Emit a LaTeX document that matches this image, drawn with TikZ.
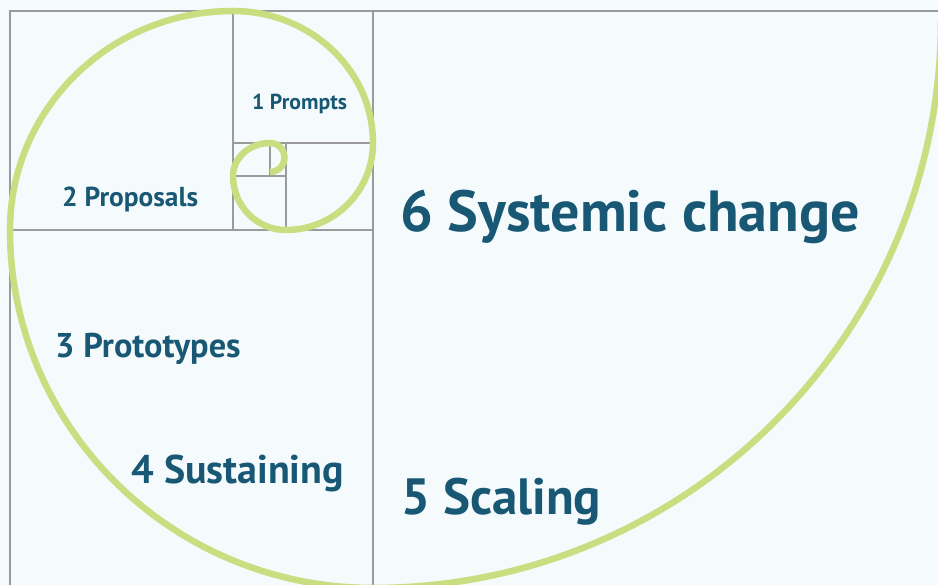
\documentclass[tikz,border=0pt]{standalone}
\usepackage{fontspec}
\setmainfont{PT Sans}
\definecolor{spiralgreen}{RGB}{200,222,128}
\definecolor{stagetext}{RGB}{24,88,117}
\definecolor{paper}{RGB}{245,251,252}
\definecolor{gridgray}{RGB}{155,155,155}
\newcommand{\stagesize}[1]{\fontsize{#1}{#1}\selectfont\bfseries}
\tikzset{
  frame/.style={draw=gridgray, line width=1.4pt},
  stage/.style={text=stagetext, anchor=base west, inner sep=0pt},
}

\begin{document}
\begin{tikzpicture}[x=1pt,y=1pt]

  \fill[paper] (0,0) rectangle (938,585);
  \useasboundingbox (0,0) rectangle (938,585);

  % golden squares
  \draw[frame] (938,574) -- (10,574) -- (10,0);
  \draw[frame] (373,574) -- (373,0);
  \draw[frame] (233,574) -- (233,355);
  \draw[frame] (10,355) -- (373,355);
  \draw[frame] (233,442) -- (373,442);
  \draw[frame] (286,442) -- (286,355);
  \draw[frame] (233,409) -- (286,409);
  \draw[frame] (270,442) -- (270,409);

  % spiral
  \begin{scope}
    \clip (0,0) rectangle (938,585);
    \draw[spiralgreen, line width=6.5pt]
      (270,413) arc[start angle=-90, end angle=90, radius=14.5]
      arc[start angle=90, end angle=180, x radius=37, y radius=33]
      arc[start angle=180, end angle=270, x radius=53, y radius=54]
      arc[start angle=270, end angle=360, radius=87]
      arc[start angle=0, end angle=90, x radius=140, y radius=132]
      arc[start angle=90, end angle=180, x radius=223, y radius=219]
      arc[start angle=180, end angle=270, x radius=363, y radius=358]
      arc[start angle=270, end angle=360, radius=568];
  \end{scope}

  % stages
  \node[stage, font=\stagesize{21.7}] (prompts) at (252,475.5) {1 Prompts};
  \node[stage, font=\stagesize{27.4}] (proposals) at (62,378) {2 Proposals};
  \node[stage, font=\stagesize{34.3}] (prototypes) at (55,227) {3 Prototypes};
  \node[stage, font=\stagesize{40}] (sustaining) at (131,101) {4 Sustaining};
  \node[stage, font=\stagesize{51}] (scaling) at (401,70) {5 Scaling};
  \node[stage, font=\stagesize{58}] (systemic) at (400,353) {6 Systemic change};

\end{tikzpicture}
\end{document}
